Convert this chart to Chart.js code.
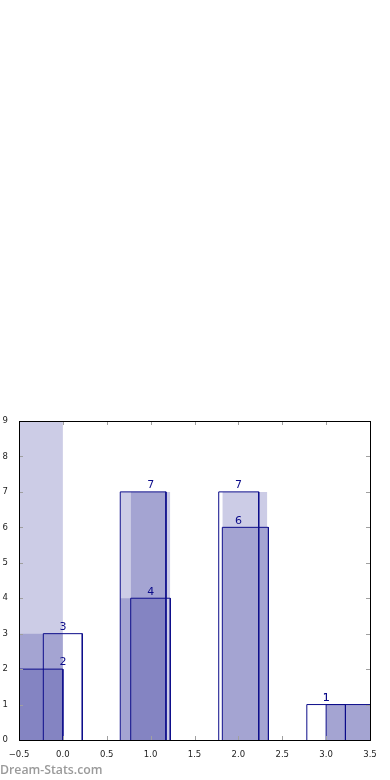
<!DOCTYPE html>
<html lang="en">
<head>
    <meta charset="UTF-8">
    <title>Dream-Stats bars</title>
    <script src="https://cdn.jsdelivr.net/npm/chart.js"></script>
    <style>
        html, body {
            margin: 0;
            padding: 0;
            background: #fff;
        }
        #wrap {
            position: relative;
            width: 390px;
            height: 780px;
        }
        #watermark {
            position: absolute;
            left: 0;
            top: 761px;
            font: 600 12.3px 'Open Sans', sans-serif;
            color: #9a9a9a;
        }
    </style>
</head>
<body>
    <div id="wrap">
        <canvas id="barChart" width="390" height="780"></canvas>
        <div id="watermark">Dream-Stats.com</div>
    </div>

    <script>
        // outlined bars (x extent in data units + height)
        const outlineFrom = [-0.52, -0.223, 0.654, 0.773, 1.776, 1.817, 2.78, 3.0];
        const outlineTo = [0.0, 0.221, 1.175, 1.224, 2.232, 2.341, 3.22, 3.52];
        const outlineValues = [2, 3, 7, 4, 7, 6, 1, 1];

        // shaded (translucent) bars
        const shadeFrom = [-0.52, -0.52, -0.52, 0.654, 0.654, 0.773, 1.817, 1.817, 3.0, 3.0];
        const shadeTo = [0.0, 0.0, 0.0, 1.175, 1.175, 1.224, 2.33, 2.33, 3.52, 3.52];
        const shadeValues = [9, 3, 2, 7, 4, 7, 7, 6, 1, 1];

        // value labels over the bars
        const labelAt = [0, 0, 1, 1, 2, 2, 3, 3];
        const labelValues = [2, 3, 7, 4, 7, 6, 1, 1];

        const xTicks = [-0.5, 0, 0.5, 1, 1.5, 2, 2.5, 3, 3.5];
        const yTicks = [0, 1, 2, 3, 4, 5, 6, 7, 8, 9];

        const NAVY = '#0c0c8a';

        function rect(x0, x1, h) {
            return [{x: x0, y: 0}, {x: x0, y: h}, {x: x1, y: h}, {x: x1, y: 0}];
        }

        const datasets = [];
        outlineValues.forEach((v, i) => {
            datasets.push({
                data: rect(outlineFrom[i], outlineTo[i], v),
                borderColor: NAVY,
                borderWidth: 1,
                fill: false,
                pointRadius: 0
            });
        });
        shadeValues.forEach((v, i) => {
            datasets.push({
                data: rect(shadeFrom[i], shadeTo[i], v),
                borderWidth: 0,
                borderColor: 'rgba(0,0,0,0)',
                backgroundColor: 'rgba(0,0,128,0.2)',
                fill: 'origin',
                pointRadius: 0
            });
        });

        // frame, inward ticks and value labels
        const decorations = {
            id: 'decorations',
            afterDatasetsDraw(chart) {
                const ctx = chart.ctx;
                const a = chart.chartArea;
                const xs = chart.scales.x, ys = chart.scales.y;
                ctx.save();
                ctx.strokeStyle = '#a0a0a0';
                ctx.lineWidth = 1;
                ctx.beginPath();
                xTicks.forEach(t => {
                    const px = Math.round(xs.getPixelForValue(t)) + 0.5;
                    ctx.moveTo(px, a.bottom); ctx.lineTo(px, a.bottom - 4);
                    ctx.moveTo(px, a.top); ctx.lineTo(px, a.top + 4);
                });
                yTicks.forEach(t => {
                    const py = Math.round(ys.getPixelForValue(t)) + 0.5;
                    ctx.moveTo(a.left, py); ctx.lineTo(a.left + 4, py);
                    ctx.moveTo(a.right, py); ctx.lineTo(a.right - 4, py);
                });
                ctx.stroke();

                ctx.strokeStyle = '#000';
                ctx.strokeRect(Math.round(a.left) + 0.5, Math.round(a.top) + 0.5,
                    Math.round(a.right - a.left), Math.round(a.bottom - a.top));

                ctx.fillStyle = NAVY;
                ctx.font = '11px "DejaVu Sans"';
                ctx.textAlign = 'center';
                ctx.textBaseline = 'bottom';
                labelValues.forEach((v, i) => {
                    ctx.fillText(String(v), xs.getPixelForValue(labelAt[i]), ys.getPixelForValue(v) - 1);
                });
                ctx.restore();
            }
        };

        new Chart(document.getElementById('barChart'), {
            type: 'line',
            data: {datasets: datasets},
            options: {
                responsive: false,
                animation: false,
                layout: {padding: {top: 421, right: 20, left: 0, bottom: 0}},
                plugins: {
                    legend: {display: false},
                    tooltip: {enabled: false}
                },
                scales: {
                    x: {
                        type: 'linear',
                        min: -0.5,
                        max: 3.5,
                        afterFit: s => { s.height = 40; },
                        afterBuildTicks: s => { s.ticks = xTicks.map(v => ({value: v})); },
                        grid: {display: false},
                        border: {display: false},
                        ticks: {
                            padding: 2,
                            maxRotation: 0,
                            autoSkip: false,
                            color: '#222',
                            font: {family: 'DejaVu Sans', size: 8.5},
                            callback: v => v.toFixed(1).replace('-', '\u2212')
                        }
                    },
                    y: {
                        min: 0,
                        max: 9,
                        afterFit: s => { s.width = 19; },
                        afterBuildTicks: s => { s.ticks = yTicks.map(v => ({value: v})); },
                        grid: {display: false},
                        border: {display: false},
                        ticks: {
                            padding: 3,
                            color: '#222',
                            font: {family: 'DejaVu Sans', size: 8.5},
                            callback: v => String(v)
                        }
                    }
                }
            },
            plugins: [decorations]
        });
    </script>
</body>
</html>
